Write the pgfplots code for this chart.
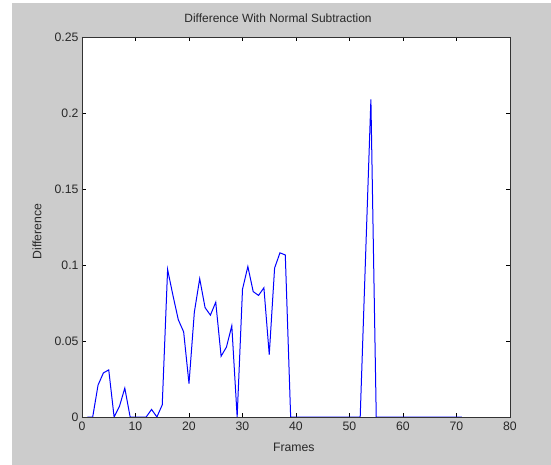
\documentclass[border=0pt]{standalone}
\usepackage{pgfplots}
\pgfplotsset{compat=1.18}
\usepackage{fontspec}
\setmainfont{Liberation Sans}
\definecolor{figgray}{RGB}{204,204,204}
\definecolor{txt}{RGB}{40,40,40}
\begin{document}
\begin{tikzpicture}
% figure background (axis origin at 0,0; 1bp = 1px)
\fill[white] (-82bp,-48bp) rectangle (469bp,417bp);
\fill[figgray] (-70bp,-48bp) rectangle (469bp,414bp);
\begin{axis}[
    at={(0,0)}, anchor=south west,
    scale only axis,
    width=428bp, height=380bp,
    xmin=0, xmax=80, ymin=0, ymax=0.25,
    xtick={0,10,...,80},
    ytick={0,0.05,0.1,0.15,0.2,0.25},
    scaled y ticks=false,
    yticklabel style={/pgf/number format/fixed, /pgf/number format/precision=2},
    xticklabel style={yshift=-1.5bp},
    /pgf/number format/assume math mode=true,
    tick align=inside,
    xtick pos=both, ytick pos=both,
    major tick length=4bp,
    axis background/.style={fill=white},
    axis line style={black!80, line width=0.8bp},
    every tick/.style={black, line width=0.6bp},
    tick label style={font=\fontsize{12.3}{13}\selectfont, text=txt},
    every axis title shift=0pt,
    title={Difference With Normal Subtraction},
    title style={font=\fontsize{12}{13}\selectfont, text=txt, at={(axis description cs:0.458,1.05)}, anchor=center},
    xlabel={Frames},
    xlabel style={font=\fontsize{12.3}{13}\selectfont, text=txt, at={(axis description cs:0.495,-0.079)}, anchor=center},
    ylabel={Difference},
    ylabel style={font=\fontsize{12.3}{13}\selectfont, text=txt, at={(axis description cs:-0.105,0.488)}, anchor=center},
]
\addplot[blue, line width=1bp, mark=none] coordinates {
(1,0) (2,0) (3,0.021) (4,0.029) (5,0.031) (6,0) (7,0.007) (8,0.019) (9,0)
(10,0) (11,0) (12,0) (13,0.005) (14,0) (15,0.008) (16,0.097) (17,0.080)
(18,0.064) (19,0.056) (20,0.022) (21,0.069) (22,0.091) (23,0.072) (24,0.067)
(25,0.0755) (26,0.040) (27,0.046) (28,0.060) (29,0) (30,0.084) (31,0.099)
(32,0.0825) (33,0.080) (34,0.085) (35,0.041) (36,0.098) (37,0.108) (38,0.1066)
(39,0) (40,0) (41,0) (42,0) (43,0) (44,0) (45,0) (46,0) (47,0) (48,0) (49,0)
(50,0) (51,0) (52,0) (53,0.105) (54,0.209) (55,0) (56,0) (57,0) (58,0) (59,0)
(60,0) (61,0) (62,0) (63,0) (64,0) (65,0) (66,0) (67,0) (68,0) (69,0) (70,0) (71,0)
};
\end{axis}
\end{tikzpicture}
\end{document}
